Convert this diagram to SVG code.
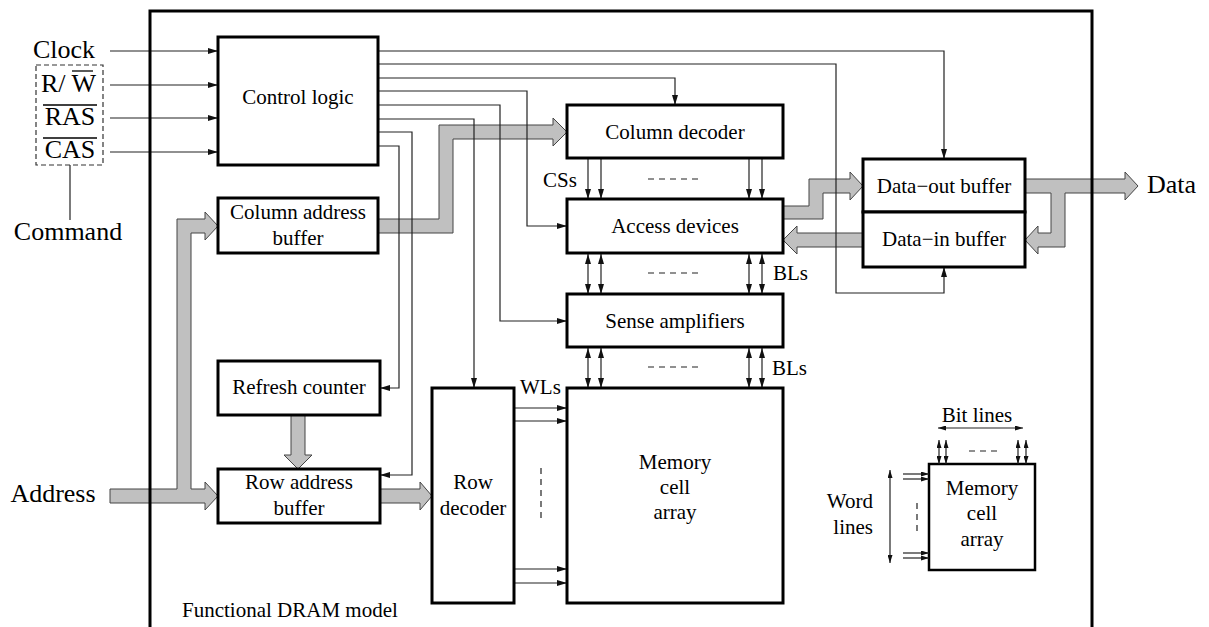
<svg xmlns="http://www.w3.org/2000/svg" width="1209" height="627" viewBox="0 0 1209 627">
<style>
.box{fill:#fff;stroke:#000;stroke-width:3}
.thin{fill:none;stroke:#222;stroke-width:1.2}
.fat{fill:#c0c0c0;stroke:#444;stroke-width:1}
text{font-family:'Liberation Serif','Times New Roman',Times,'DejaVu Serif',serif;fill:#000}
.big{font-size:26px}
.mid{font-size:21px}
.dash{fill:none;stroke:#222;stroke-width:1.2;stroke-dasharray:6 5}
</style>
<defs>
<marker id="ah" viewBox="0 0 10 6" refX="10" refY="3" markerWidth="10" markerHeight="6" markerUnits="userSpaceOnUse" orient="auto-start-reverse"><path d="M0,0 L10,3 L0,6 z" fill="#111"/></marker>
<marker id="as" viewBox="0 0 8 5" refX="8" refY="2.5" markerWidth="8" markerHeight="5" markerUnits="userSpaceOnUse" orient="auto-start-reverse"><path d="M0,0 L8,2.5 L0,5 z" fill="#111"/></marker>
</defs>
<rect width="1209" height="627" fill="#fff"/>

<g id="fat-arrows">
<polygon class="fat" points="110,489 177,489 177,219 205,219 205,212 218,226 205,240 205,233 191,233 191,489 205,489 205,482 218,496 205,510 205,503 110,503"/>
<polygon class="fat" points="378,219 439,219 439,125 553,125 553,118 567,132 553,146 553,139 453,139 453,233 378,233"/>
<polygon class="fat" points="291,415 305,415 305,455 312,455 298,469 284,455 291,455"/>
<polygon class="fat" points="380,489 420,489 420,482 432,496 420,510 420,503 380,503"/>
<polygon class="fat" points="783,206 809,206 809,179 850,179 850,172 863,186 850,200 850,193 823,193 823,219 783,219"/>
<polygon class="fat" points="863,233 797,233 797,226 783,240 797,254 797,247 863,247"/>
<polygon class="fat" points="1025,179 1125,179 1125,172 1138,186 1125,200 1125,193 1065,193 1065,247 1038,247 1038,254 1025,240 1038,226 1038,233 1051,233 1051,193 1025,193"/>
</g>

<g id="connectors">
<line class="thin" x1="110" y1="51" x2="218" y2="51" marker-end="url(#ah)"/>
<line class="thin" x1="110" y1="85" x2="218" y2="85" marker-end="url(#ah)"/>
<line class="thin" x1="110" y1="118" x2="218" y2="118" marker-end="url(#ah)"/>
<line class="thin" x1="110" y1="152" x2="218" y2="152" marker-end="url(#ah)"/>
<line class="thin" x1="70" y1="165" x2="70" y2="220"/>
<path class="thin" d="M378,51 H944 V159" marker-end="url(#ah)"/>
<path class="thin" d="M378,64 H836 V293 H944 V267" marker-end="url(#ah)"/>
<path class="thin" d="M378,78 H675 V105" marker-end="url(#ah)"/>
<path class="thin" d="M378,91 H527 V226 H567" marker-end="url(#ah)"/>
<path class="thin" d="M378,105 H500 V321 H567" marker-end="url(#ah)"/>
<path class="thin" d="M378,119 H474 V388" marker-end="url(#ah)"/>
<path class="thin" d="M378,132 H412 V475 H380" marker-end="url(#ah)"/>
<path class="thin" d="M378,146 H399 V388 H380" marker-end="url(#ah)"/>
<line class="thin" x1="588" y1="158" x2="588" y2="199" marker-end="url(#ah)"/>
<line class="thin" x1="601" y1="158" x2="601" y2="199" marker-end="url(#ah)"/>
<line class="thin" x1="749" y1="158" x2="749" y2="199" marker-end="url(#ah)"/>
<line class="thin" x1="762" y1="158" x2="762" y2="199" marker-end="url(#ah)"/>
<line class="dash" x1="648" y1="179" x2="698" y2="179"/>
<line class="thin" x1="588" y1="254" x2="588" y2="294" marker-start="url(#ah)" marker-end="url(#ah)"/>
<line class="thin" x1="601" y1="254" x2="601" y2="294" marker-start="url(#ah)" marker-end="url(#ah)"/>
<line class="thin" x1="749" y1="254" x2="749" y2="294" marker-start="url(#ah)" marker-end="url(#ah)"/>
<line class="thin" x1="762" y1="254" x2="762" y2="294" marker-start="url(#ah)" marker-end="url(#ah)"/>
<line class="dash" x1="648" y1="273" x2="698" y2="273"/>
<line class="thin" x1="588" y1="348" x2="588" y2="388" marker-start="url(#ah)" marker-end="url(#ah)"/>
<line class="thin" x1="601" y1="348" x2="601" y2="388" marker-start="url(#ah)" marker-end="url(#ah)"/>
<line class="thin" x1="749" y1="348" x2="749" y2="388" marker-start="url(#ah)" marker-end="url(#ah)"/>
<line class="thin" x1="762" y1="348" x2="762" y2="388" marker-start="url(#ah)" marker-end="url(#ah)"/>
<line class="dash" x1="648" y1="367" x2="698" y2="367"/>
<line class="thin" x1="515" y1="408" x2="567" y2="408" marker-end="url(#ah)"/>
<line class="thin" x1="515" y1="421" x2="567" y2="421" marker-end="url(#ah)"/>
<line class="thin" x1="515" y1="569" x2="567" y2="569" marker-end="url(#ah)"/>
<line class="thin" x1="515" y1="583" x2="567" y2="583" marker-end="url(#ah)"/>
<line class="dash" x1="541" y1="468" x2="541" y2="522"/>
</g>

<g id="inputs">
<rect x="36" y="65" width="67" height="100" fill="none" stroke="#333" stroke-width="1.2" stroke-dasharray="5 3"/>
<text class="big" x="64" y="58" text-anchor="middle">Clock</text>
<text class="big" x="41" y="92">R/ W</text>
<line x1="72" y1="71" x2="93" y2="71" stroke="#000" stroke-width="1.3"/>
<text class="big" x="70" y="125" text-anchor="middle">RAS</text>
<line x1="43" y1="105" x2="97" y2="105" stroke="#000" stroke-width="1.3"/>
<text class="big" x="70" y="158" text-anchor="middle">CAS</text>
<line x1="43" y1="138" x2="97" y2="138" stroke="#000" stroke-width="1.3"/>
<text class="big" x="68" y="240" text-anchor="middle">Command</text>
<text class="big" x="53" y="502" text-anchor="middle">Address</text>
<text class="big" x="1147" y="193">Data</text>
</g>

<g id="control-logic"><rect class="box" x="218" y="37" width="160" height="128"/><text class="mid" x="298" y="104" text-anchor="middle">Control logic</text></g>
<g id="column-address-buffer"><rect class="box" x="218" y="198" width="160" height="55"/><text class="mid" x="298" y="219" text-anchor="middle">Column address</text><text class="mid" x="298" y="245" text-anchor="middle">buffer</text></g>
<g id="refresh-counter"><rect class="box" x="218" y="361" width="162" height="54"/><text class="mid" x="299" y="394" text-anchor="middle">Refresh counter</text></g>
<g id="row-address-buffer"><rect class="box" x="218" y="469" width="162" height="54"/><text class="mid" x="299" y="489" text-anchor="middle">Row address</text><text class="mid" x="299" y="515" text-anchor="middle">buffer</text></g>
<g id="row-decoder"><rect class="box" x="432" y="388" width="82" height="215"/><text class="mid" x="473" y="489" text-anchor="middle">Row</text><text class="mid" x="473" y="515" text-anchor="middle">decoder</text></g>
<g id="column-decoder"><rect class="box" x="567" y="105" width="216" height="53"/><text class="mid" x="675" y="139" text-anchor="middle">Column decoder</text></g>
<g id="access-devices"><rect class="box" x="567" y="199" width="216" height="54"/><text class="mid" x="675" y="233" text-anchor="middle">Access devices</text></g>
<g id="sense-amplifiers"><rect class="box" x="567" y="294" width="216" height="53"/><text class="mid" x="675" y="328" text-anchor="middle">Sense amplifiers</text></g>
<g id="memory-cell-array"><rect class="box" x="567" y="388" width="216" height="215"/><text class="mid" x="675" y="469" text-anchor="middle">Memory</text><text class="mid" x="675" y="494" text-anchor="middle">cell</text><text class="mid" x="675" y="519" text-anchor="middle">array</text></g>
<g id="data-out-buffer"><rect class="box" x="863" y="159" width="162" height="53"/><text class="mid" x="944" y="193" text-anchor="middle">Data−out buffer</text></g>
<g id="data-in-buffer"><rect class="box" x="863" y="212" width="162" height="55"/><text class="mid" x="944" y="246" text-anchor="middle">Data−in buffer</text></g>

<g id="labels">
<text class="mid" x="543" y="187">CSs</text>
<text class="mid" x="773" y="280">BLs</text>
<text class="mid" x="772" y="375">BLs</text>
<text class="mid" x="520" y="394">WLs</text>
<text class="mid" x="182" y="617">Functional DRAM model</text>
</g>

<g id="inset">
<rect x="929" y="464" width="106" height="106" fill="#fff" stroke="#000" stroke-width="2.5"/>
<text class="mid" x="982" y="495" text-anchor="middle">Memory</text>
<text class="mid" x="982" y="520" text-anchor="middle">cell</text>
<text class="mid" x="982" y="546" text-anchor="middle">array</text>
<text class="mid" x="977" y="422" text-anchor="middle">Bit lines</text>
<line class="thin" x1="938" y1="428" x2="1023" y2="428" marker-start="url(#as)" marker-end="url(#as)"/>
<line class="thin" x1="939" y1="440" x2="939" y2="464" marker-start="url(#as)" marker-end="url(#as)"/>
<line class="thin" x1="946" y1="440" x2="946" y2="464" marker-start="url(#as)" marker-end="url(#as)"/>
<line class="thin" x1="1018" y1="440" x2="1018" y2="464" marker-start="url(#as)" marker-end="url(#as)"/>
<line class="thin" x1="1026" y1="440" x2="1026" y2="464" marker-start="url(#as)" marker-end="url(#as)"/>
<line class="dash" x1="969" y1="451" x2="997" y2="451"/>
<text class="mid" x="873" y="508" text-anchor="end">Word</text>
<text class="mid" x="873" y="534" text-anchor="end">lines</text>
<line class="thin" x1="890" y1="470" x2="890" y2="563" marker-start="url(#as)" marker-end="url(#as)"/>
<line class="thin" x1="903" y1="474" x2="929" y2="474" marker-end="url(#as)"/>
<line class="thin" x1="903" y1="479" x2="929" y2="479" marker-end="url(#as)"/>
<line class="thin" x1="903" y1="553" x2="929" y2="553" marker-end="url(#as)"/>
<line class="thin" x1="903" y1="558" x2="929" y2="558" marker-end="url(#as)"/>
<line class="dash" x1="917" y1="503" x2="917" y2="531"/>
</g>

<g id="frame"><path d="M150,640 V11 H1092 V640" fill="none" stroke="#000" stroke-width="3"/></g>
</svg>
